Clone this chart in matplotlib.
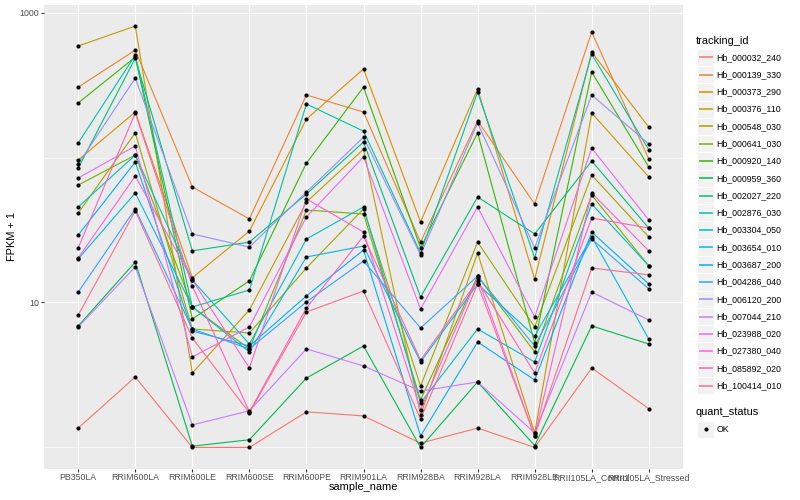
import numpy as np
import matplotlib
matplotlib.use('Agg')
import matplotlib.pyplot as plt
from matplotlib.patches import Rectangle
from matplotlib.ticker import NullFormatter

samples = ['PB350LA', 'RRIM600LA', 'RRIM600LE', 'RRIM600SE', 'RRIM600PE', 'RRIM901LA',
           'RRIM928BA', 'RRIM928LA', 'RRIM928LE', 'RRII105LA_Control', 'RRII105LA_Stressed']

genes = ['Hb_000032_240', 'Hb_000139_330', 'Hb_000373_290', 'Hb_000376_110', 'Hb_000548_030',
         'Hb_000641_030', 'Hb_000920_140', 'Hb_000959_360', 'Hb_002027_220', 'Hb_002876_030',
         'Hb_003304_050', 'Hb_003654_010', 'Hb_003687_200', 'Hb_004286_040', 'Hb_006120_200',
         'Hb_007044_210', 'Hb_023988_020', 'Hb_027380_040', 'Hb_085892_020', 'Hb_100414_010']

# FPKM + 1 per sample
hb_000032_240 = [1.36, 3.06, 1.0, 1.0, 1.76, 1.65, 1.07, 1.36, 1.0, 3.53, 1.85]
hb_000139_330 = [306, 551, 62.6, 37.7, 270, 206, 26.1, 179, 47.8, 734, 97.7]
hb_000373_290 = [96.1, 206, 14.8, 31.1, 184, 408, 35.9, 297, 14.5, 534, 162]
hb_000376_110 = [588, 807, 3.26, 8.88, 49.3, 114, 1.68, 21.9, 1.26, 203, 73.4]
hb_000548_030 = [41.4, 148, 6.56, 6.16, 17.3, 44.2, 2.65, 26.1, 6.78, 75.7, 28.3]
hb_000641_030 = [64.6, 104, 9.31, 4.78, 43.4, 40.8, 2.13, 15.2, 4.56, 55.1, 17.9]
hb_000920_140 = [238, 493, 7.70, 14.1, 91.6, 306, 23.8, 148, 5.26, 389, 86.0]
hb_000959_360 = [6.89, 19.0, 1.02, 1.13, 3.01, 5.01, 1.0, 2.83, 1.03, 6.89, 5.17]
hb_002027_220 = [84.6, 485, 22.7, 26.1, 56.0, 128, 10.9, 53.4, 29.7, 94.6, 32.6]
hb_002876_030 = [126, 509, 9.31, 12.2, 234, 152, 21.9, 283, 20.3, 517, 113]
hb_003304_050 = [45.6, 104, 14.3, 5.17, 27.4, 45.6, 2.03, 6.56, 3.89, 47.8, 17.9]
hb_003654_010 = [20.0, 56.9, 9.31, 4.56, 20.6, 24.5, 3.89, 13.4, 5.87, 28.3, 5.60]
hb_003687_200 = [29.2, 93.1, 6.36, 5.01, 11.1, 23.0, 1.20, 5.34, 2.92, 30.6, 13.4]
hb_004286_040 = [11.8, 44.2, 6.56, 4.78, 10.1, 19.3, 6.67, 15.2, 5.01, 27.4, 12.4]
hb_006120_200 = [90.2, 353, 29.7, 24.1, 57.8, 138, 21.3, 173, 23.8, 270, 124]
hb_007044_210 = [6.78, 17.6, 1.43, 1.79, 4.78, 3.65, 2.45, 2.83, 1.26, 11.8, 7.57]
hb_023988_020 = [72.2, 120, 4.21, 6.78, 38.9, 101, 9.02, 45.6, 7.94, 116, 37.1]
hb_027380_040 = [20.3, 74.5, 14.3, 3.53, 51.8, 30.6, 1.82, 14.8, 1.20, 56.9, 22.7]
hb_085892_020 = [23.8, 203, 13.0, 1.76, 9.16, 28.7, 4.01, 14.1, 3.26, 38.3, 32.6]
hb_100414_010 = [8.20, 42.8, 5.69, 1.73, 8.60, 12.0, 1.57, 13.4, 1.20, 17.3, 15.5]

fpkm = [hb_000032_240, hb_000139_330, hb_000373_290, hb_000376_110, hb_000548_030,
        hb_000641_030, hb_000920_140, hb_000959_360, hb_002027_220, hb_002876_030,
        hb_003304_050, hb_003654_010, hb_003687_200, hb_004286_040, hb_006120_200,
        hb_007044_210, hb_023988_020, hb_027380_040, hb_085892_020, hb_100414_010]

quant_status = ['OK']

# ggplot default hue palette for 20 levels
palette = ['#F8766D', '#EA8331', '#D89000', '#C09B00', '#A3A500', '#7CAE00', '#39B600',
           '#00BB4E', '#00BF7D', '#00C1A3', '#00BFC4', '#00BAE0', '#00B0F6', '#35A2FF',
           '#9590FF', '#C77CFF', '#E76BF3', '#FA62DB', '#FF62BC', '#FF6C91']

plt.rcParams['font.family'] = ['Liberation Sans', 'DejaVu Sans']

W, H = 800, 500
fig = plt.figure(figsize=(8, 5), dpi=100)
fig.patch.set_facecolor('white')

left, right, top, bottom = 44, 683, 5, 468.5
ax = fig.add_axes([left / W, 1 - bottom / H, (right - left) / W, (bottom - top) / H])
ax.set_facecolor('#EBEBEB')

x = np.arange(1, len(samples) + 1)
for vals, col in zip(fpkm, palette):
    ax.plot(x, vals, color=col, lw=0.8, zorder=2)
for vals in fpkm:
    ax.plot(x, vals, 'o', color='black', ms=3.0, mew=0, zorder=3)

ax.set_yscale('log')
allv = np.concatenate([np.array(v, dtype=float) for v in fpkm])
lo, hi = np.log10(allv.min()), np.log10(allv.max())
pad = 0.05 * (hi - lo)
ax.set_ylim(10 ** (lo - pad), 10 ** (hi + pad))
ax.set_xlim(0.4, len(samples) + 0.6)

ax.set_yticks([10, 1000])
ax.set_yticklabels(['10', '1000'])
ax.set_yticks([1, 100], minor=True)
ax.yaxis.set_minor_formatter(NullFormatter())
ax.set_xticks(x)
ax.set_xticklabels(samples)

ax.grid(which='major', color='white', lw=0.8)
ax.grid(which='minor', axis='y', color='white', lw=0.4)
ax.set_axisbelow(True)
for s in ax.spines.values():
    s.set_visible(False)
ax.tick_params(which='major', length=2, width=0.8, color='#333333',
               labelsize=6.3, labelcolor='#4D4D4D', pad=1.6)
ax.tick_params(which='minor', length=0)

fig.text((left + right) / 2 / W, 1 - 487.5 / H, 'sample_name', fontsize=7.9,
         ha='center', va='center')
fig.text(12 / W, 1 - (top + bottom) / 2 / H, 'FPKM + 1', fontsize=7.9,
         ha='center', va='center', rotation=90)

# legends, drawn in pixel coordinates
lax = fig.add_axes([0, 0, 1, 1])
lax.set_xlim(0, W)
lax.set_ylim(H, 0)
lax.axis('off')

key = 17.28
lax.text(696, 40.7, 'tracking_id', fontsize=7.9, ha='left', va='center')
for i, (g, col) in enumerate(zip(genes, palette)):
    yc = 57.3 + key * i
    lax.add_patch(Rectangle((697, yc - key / 2), key, key, facecolor='#F2F2F2',
                            edgecolor='white', lw=0.6, zorder=1))
    lax.plot([698.5, 712.8], [yc, yc], color=col, lw=1.1, zorder=3,
             solid_capstyle='butt')
    lax.text(716.5, yc, g, fontsize=6.3, ha='left', va='center')

lax.text(696, 412.3, 'quant_status', fontsize=7.9, ha='left', va='center')
for j, q in enumerate(quant_status):
    yc = 429.3 + key * j
    lax.add_patch(Rectangle((697, yc - key / 2), key, key, facecolor='#F2F2F2',
                            edgecolor='white', lw=0.6, zorder=1))
    lax.plot([705.6], [yc], 'o', color='black', ms=3.0, mew=0, zorder=3)
    lax.text(716.5, yc, q, fontsize=6.3, ha='left', va='center')

fig.savefig('out.png', dpi=100)
